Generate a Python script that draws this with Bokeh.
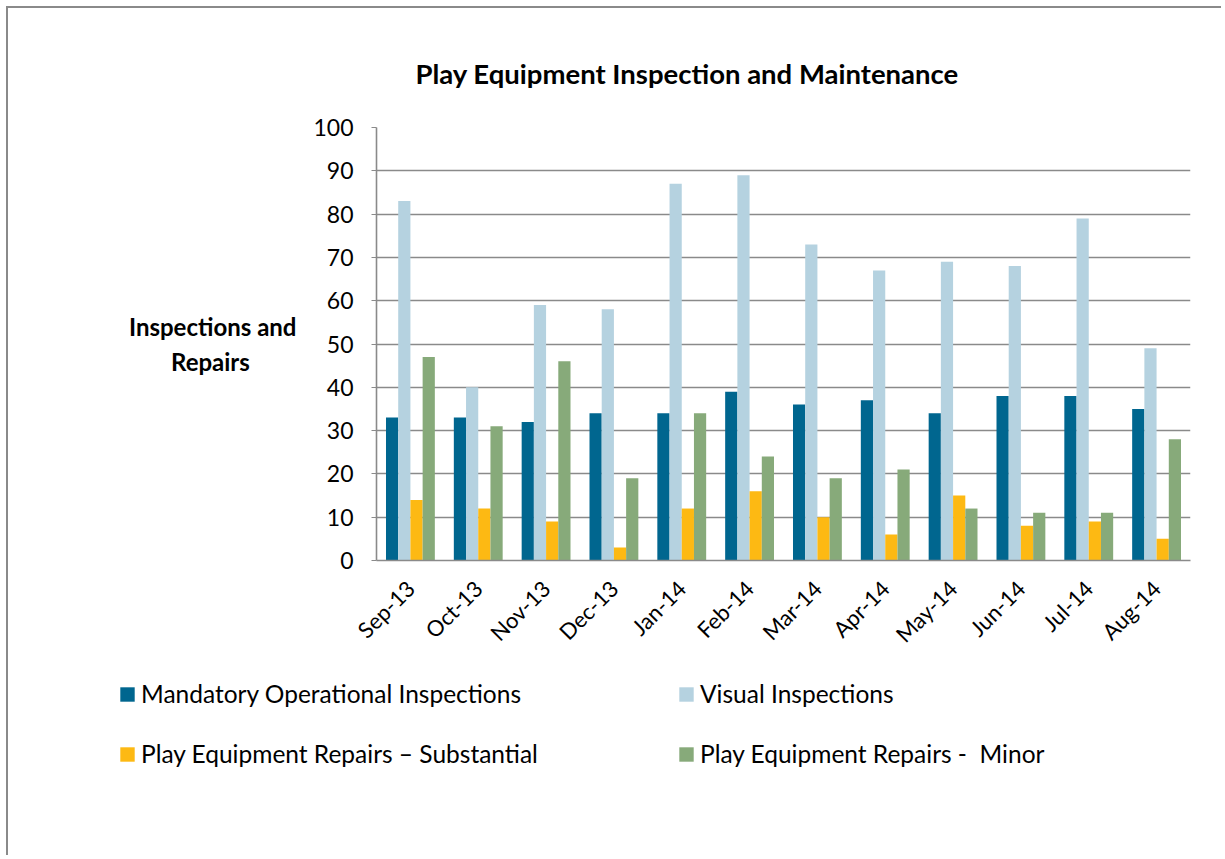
import math
from bokeh.plotting import figure
from bokeh.models import FactorRange, Legend, LegendItem, SingleIntervalTicker
from bokeh.transform import dodge
from bokeh.embed import file_html
from bokeh.resources import INLINE

months = ["Sep-13", "Oct-13", "Nov-13", "Dec-13", "Jan-14", "Feb-14",
          "Mar-14", "Apr-14", "May-14", "Jun-14", "Jul-14", "Aug-14"]
mandatory = [33, 33, 32, 34, 34, 39, 36, 37, 34, 38, 38, 35]
visual = [83, 40, 59, 58, 87, 89, 73, 67, 69, 68, 79, 49]
substantial = [14, 12, 9, 3, 12, 16, 10, 6, 15, 8, 9, 5]
minor = [47, 31, 46, 19, 34, 24, 19, 21, 12, 11, 11, 28]

series_names = ["Mandatory Operational Inspections", "Visual Inspections",
                "Play Equipment Repairs \u2013 Substantial", "Play Equipment Repairs -  Minor"]
series_values = [mandatory, visual, substantial, minor]
colors = ["#00668F", "#B5D2E0", "#FDB913", "#87AA7A"]

FONT = "Lato"
W = 1215
H1 = 652
H2 = 197

p = figure(x_range=FactorRange(*months, range_padding=0), y_range=(0, 100),
           width=W, height=H1, output_backend="svg", toolbar_location=None,
           min_border_left=368, min_border_right=33, min_border_top=119,
           min_border_bottom=98)
p.styles = {"border-left": "2px solid #8a8a8a", "border-top": "2px solid #8a8a8a",
            "margin-left": "6px", "margin-top": "6px"}

p.title.text = "Play Equipment Inspection and Maintenance"
p.title.text_font = FONT
p.title.text_font_size = "27.5px"
p.title.text_font_style = "bold"
p.title.text_color = "black"
p.title.align = "left"
p.title.offset = 39
p.title.standoff = 75

offsets = [-0.27, -0.09, 0.09, 0.27]
renderers = []
for name, vals, col, off in zip(series_names, series_values, colors, offsets):
    data = {"month": months, "val": vals}
    renderers.append(p.vbar(x=dodge("month", off, range=p.x_range), top="val", bottom=0,
                            width=0.18, source=data, fill_color=col, line_color=None))

p.outline_line_color = None
p.xgrid.grid_line_color = None
p.ygrid.grid_line_color = "#8a8a8a"
p.ygrid.grid_line_width = 1.6
p.yaxis.ticker = SingleIntervalTicker(interval=10)
p.yaxis.axis_line_color = "#8a8a8a"
p.yaxis.axis_line_width = 1.6
p.yaxis.major_tick_line_color = "#8a8a8a"
p.yaxis.major_tick_out = 5
p.yaxis.major_tick_in = 0
p.yaxis.minor_tick_line_color = None
p.yaxis.major_label_text_font = FONT
p.yaxis.major_label_text_font_size = "23px"
p.yaxis.major_label_text_color = "black"
p.yaxis.major_label_standoff = 18

ya = p.yaxis[0]
ya.axis_label = "Inspections and\nRepairs" + "\u00a0" * 8
ya.axis_label_text_font = FONT
ya.axis_label_text_font_size = "24px"
ya.axis_label_text_font_style = "bold"
ya.axis_label_text_color = "black"
ya.axis_label_standoff = 14
if "axis_label_orientation" in ya.properties():
    ya.axis_label_orientation = "horizontal"

p.xaxis.axis_line_color = "#8a8a8a"
p.xaxis.axis_line_width = 1.6
p.xaxis.major_tick_line_color = None
p.xaxis.major_label_orientation = math.pi / 4
p.xaxis.major_label_text_font = FONT
p.xaxis.major_label_text_font_size = "22px"
p.xaxis.major_label_text_color = "black"
p.xaxis.major_label_standoff = 18

# legend strip below the chart (separate root so its frame spans the full width)
lp = figure(width=W, height=H2, x_range=(0, 1), y_range=(0, 1),
            output_backend="svg", toolbar_location=None,
            x_axis_location=None, y_axis_location=None,
            min_border_left=0, min_border_right=0,
            min_border_top=0, min_border_bottom=0)
lp.styles = {"border-left": "2px solid #8a8a8a", "margin-left": "6px"}
lp.outline_line_color = None
lp.xgrid.visible = False
lp.ygrid.visible = False
legend_src = {"x": [0.5], "top": [0.0]}   # zero-height placeholder, draws nothing
lrs = [lp.vbar(x="x", top="top", bottom=0, width=0.0, source=legend_src,
               fill_color=col, line_color=None) for col in colors]

def make_legend(idx, vx, vy):
    items = [LegendItem(label=series_names[i], renderers=[lrs[i]]) for i in idx]
    return Legend(items=items, location=(vx, vy), orientation="vertical",
                  glyph_width=18, glyph_height=18, label_height=29, spacing=31,
                  padding=0, margin=0, label_standoff=5,
                  label_text_font=FONT, label_text_font_size="24.5px",
                  label_text_color="black", border_line_color=None,
                  background_fill_alpha=0)

lp.add_layout(make_legend([0, 2], 110, 87))
lp.add_layout(make_legend([1, 3], 669, 87))

open("out.html", "w").write(file_html([p, lp], INLINE))
